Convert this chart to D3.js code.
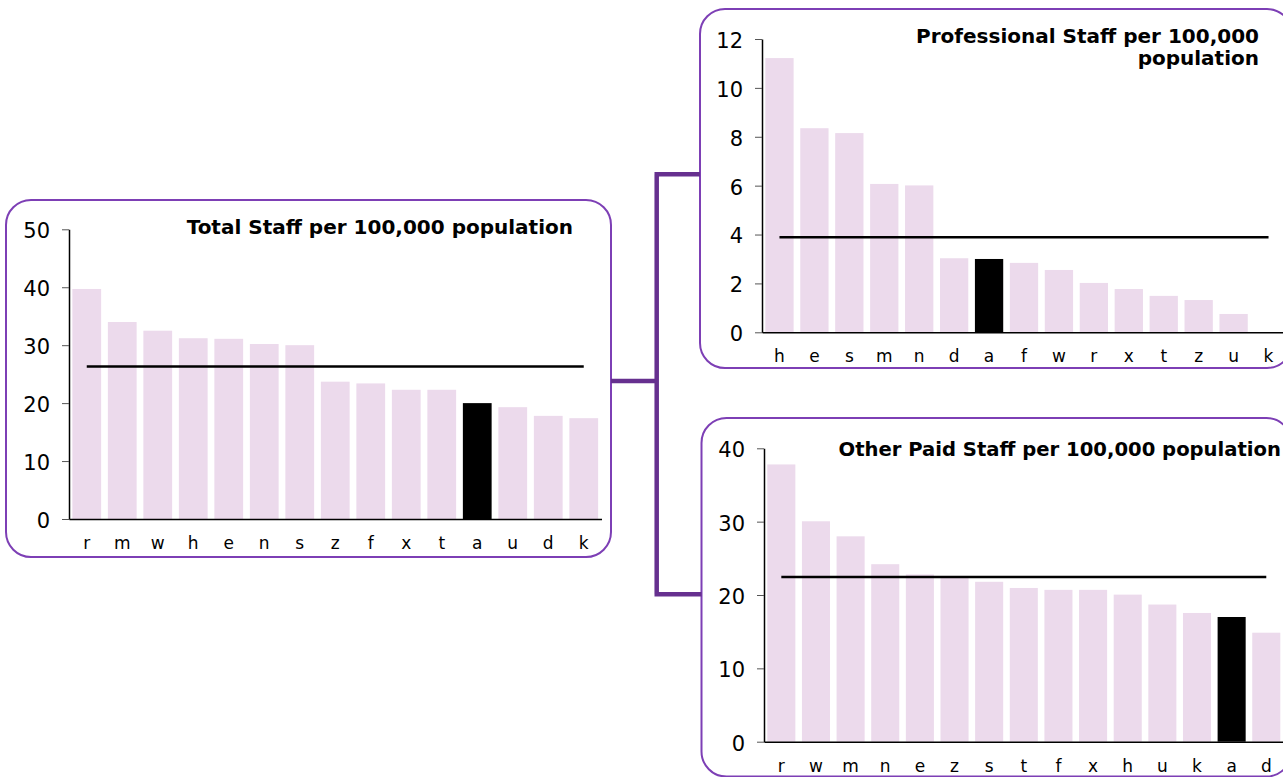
<!DOCTYPE html>
<html>
<head>
<meta charset="utf-8">
<script src="https://cdn.jsdelivr.net/npm/d3@7"></script>
<style>
  html, body { margin: 0; padding: 0; background: #fff; }
  svg { display: block; font-family: "DejaVu Sans", Verdana, sans-serif; }
</style>
</head>
<body>
<svg id="chart" width="1283" height="777"></svg>
<script>
// ---- Data ----
const totalCats = ["r","m","w","h","e","n","s","z","f","x","t","a","u","d","k"];
const totalVals = [39.7, 34.0, 32.5, 31.2, 31.1, 30.2, 30.0, 23.7, 23.4, 22.3, 22.3, 20.0, 19.3, 17.8, 17.4];
const totalAvg = 26.3;
const totalTicks = [0, 10, 20, 30, 40, 50];
const totalTitle = ["Total Staff per 100,000 population"];

const profCats = ["h","e","s","m","n","d","a","f","w","r","x","t","z","u","k"];
const profVals = [11.22, 8.35, 8.15, 6.07, 6.01, 3.03, 3.0, 2.84, 2.55, 2.02, 1.77, 1.49, 1.32, 0.75, 0];
const profAvg = 3.89;
const profTicks = [0, 2, 4, 6, 8, 10, 12];
const profTitle = ["Professional Staff per 100,000", "population"];

const otherCats = ["r","w","m","n","e","z","s","t","f","x","h","u","k","a","d"];
const otherVals = [37.8, 30.05, 28.0, 24.2, 22.8, 22.4, 21.8, 20.96, 20.7, 20.7, 20.05, 18.7, 17.55, 17.0, 14.86];
const otherAvg = 22.45;
const otherTicks = [0, 10, 20, 30, 40];
const otherTitle = ["Other Paid Staff per 100,000 population"];

const highlightCat = "a";

// ---- Styles ----
const BAR = "#ecdaec";
const HIGHLIGHT = "#000000";
const BOX = "#7d3fb5";
const CONNECT = "#66308f";

const svg = d3.select("#chart");

// ---- Boxes ----
const boxes = [
  {x: 6, y: 200, w: 605, h: 357},
  {x: 700, y: 9, w: 592, h: 359},
  {x: 701.5, y: 418, w: 590, h: 358.5}
];
svg.selectAll("rect.box").data(boxes).join("rect")
  .attr("class", "box")
  .attr("x", d => d.x).attr("y", d => d.y)
  .attr("width", d => d.w).attr("height", d => d.h)
  .attr("rx", 25).attr("ry", 25)
  .attr("fill", "#fff").attr("stroke", BOX).attr("stroke-width", 2);

// ---- Connectors ----
const conn = d3.path();
conn.moveTo(611, 381); conn.lineTo(656.7, 381);
conn.moveTo(656.7, 174.3); conn.lineTo(656.7, 594.3);
conn.moveTo(654.5, 174.3); conn.lineTo(700, 174.3);
conn.moveTo(654.5, 594.3); conn.lineTo(701.5, 594.3);
svg.append("path").attr("d", conn.toString())
  .attr("fill", "none").attr("stroke", CONNECT).attr("stroke-width", 4.5);

// ---- Chart drawing ----
function drawChart(cfg) {
  const g = svg.append("g");
  const x = d3.scaleBand().domain(cfg.cats).range([cfg.x0, cfg.x1])
    .paddingInner(0.19).paddingOuter(0.095);
  const y = d3.scaleLinear().domain([0, cfg.ticks[cfg.ticks.length - 1]]).range([cfg.yBottom, cfg.yTop]);

  const data = cfg.cats.map((c, i) => ({c, v: cfg.vals[i]}));
  g.selectAll("rect.bar").data(data).join("rect")
    .attr("class", "bar")
    .attr("x", d => x(d.c))
    .attr("width", x.bandwidth())
    .attr("y", d => y(d.v))
    .attr("height", d => y(0) - y(d.v))
    .attr("fill", d => d.c === highlightCat ? HIGHLIGHT : BAR);

  // average line
  const first = cfg.cats[0], last = cfg.cats[cfg.cats.length - 1];
  g.append("line")
    .attr("x1", x(first) + x.bandwidth() / 2)
    .attr("x2", x(last) + x.bandwidth() / 2)
    .attr("y1", y(cfg.avg)).attr("y2", y(cfg.avg))
    .attr("stroke", "#000").attr("stroke-width", 2.5);

  // y axis
  const ya = g.append("g").attr("transform", `translate(${cfg.x0},0)`)
    .call(d3.axisLeft(y).tickValues(cfg.ticks).tickFormat(d3.format("d"))
      .tickSize(7).tickSizeOuter(0).tickPadding(12));
  ya.select(".domain").attr("stroke", "#000").attr("stroke-width", 1.5);
  ya.selectAll(".tick line").attr("stroke", "#555").attr("stroke-width", 1);
  ya.selectAll(".tick text").attr("font-size", 21).attr("fill", "#000")
    .attr("dy", "0.4em")
    .attr("font-family", "DejaVu Sans, sans-serif");

  // x axis
  const xa = g.append("g").attr("transform", `translate(0,${cfg.yBottom})`)
    .call(d3.axisBottom(x).tickSize(0).tickSizeOuter(0).tickPadding(18));
  xa.select(".domain").attr("stroke", "#000").attr("stroke-width", 1.5);
  xa.selectAll(".tick text").attr("font-size", 17).attr("fill", "#000")
    .attr("font-family", "DejaVu Sans, sans-serif");

  // title
  const t = g.append("text")
    .attr("font-weight", "bold").attr("font-size", cfg.titleSize)
    .attr("text-anchor", cfg.anchor).attr("fill", "#000");
  cfg.title.forEach((line, i) => {
    t.append("tspan").attr("x", cfg.tx).attr("y", cfg.ty + i * cfg.lineGap).text(line);
  });
}

drawChart({cats: totalCats, vals: totalVals, avg: totalAvg, ticks: totalTicks,
  x0: 69, x1: 601.5, yTop: 229.3, yBottom: 519,
  title: totalTitle, tx: 573, ty: 234, anchor: "end", titleSize: 20, lineGap: 0});

drawChart({cats: profCats, vals: profVals, avg: profAvg, ticks: profTicks,
  x0: 762, x1: 1286, yTop: 39, yBottom: 332.3,
  title: profTitle, tx: 1259, ty: 43, anchor: "end", titleSize: 20, lineGap: 22});

drawChart({cats: otherCats, vals: otherVals, avg: otherAvg, ticks: otherTicks,
  x0: 764, x1: 1283.6, yTop: 448.3, yBottom: 741.7,
  title: otherTitle, tx: 1281, ty: 456, anchor: "end", titleSize: 19.6, lineGap: 0});
</script>
</body>
</html>
